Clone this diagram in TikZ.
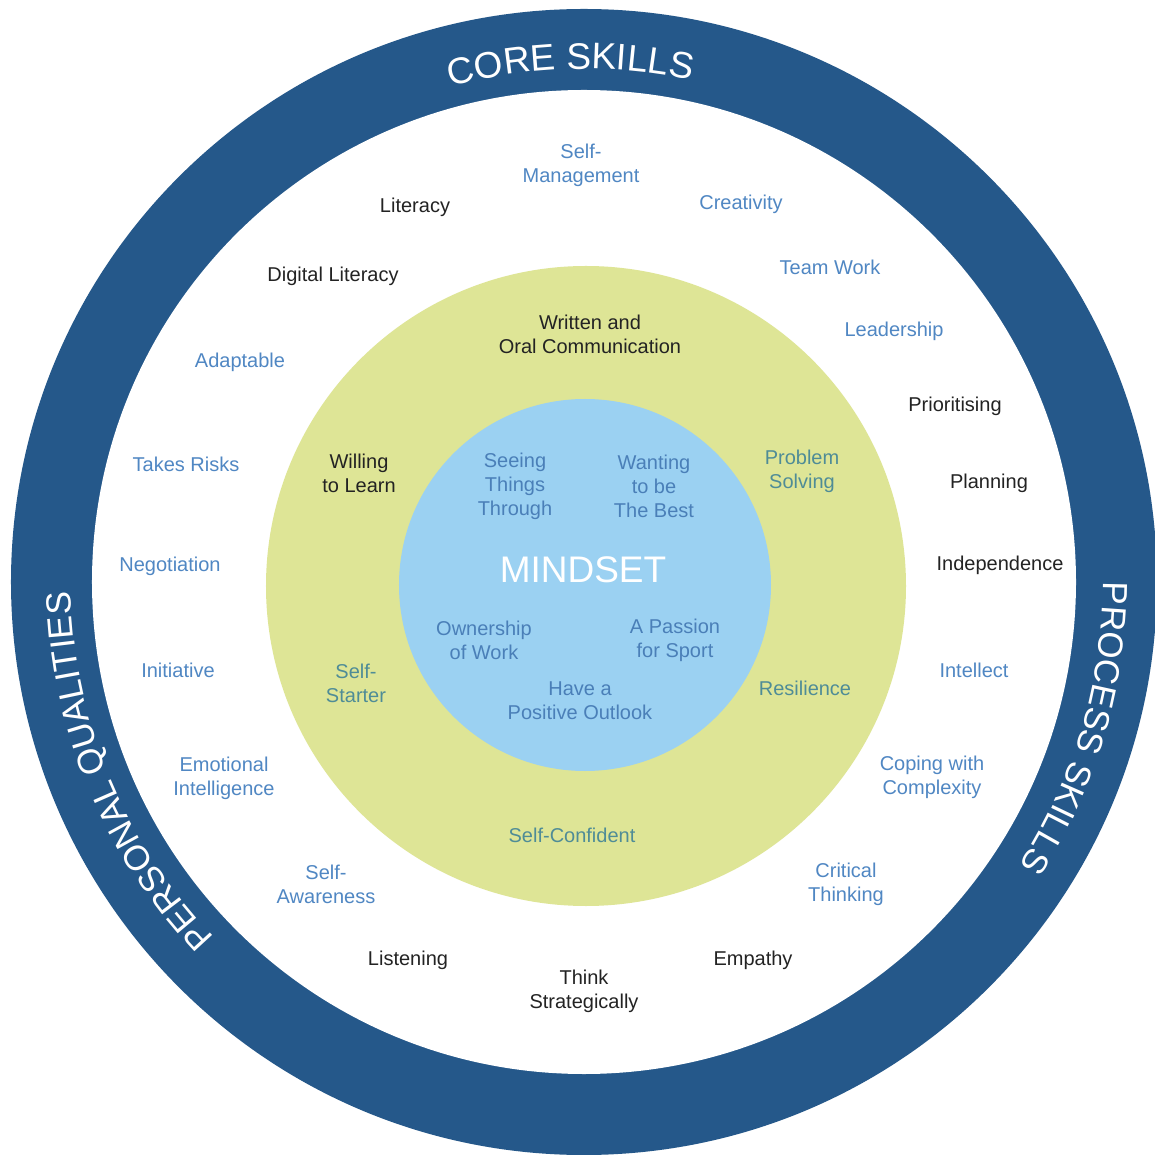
\documentclass[tikz,border=0pt]{standalone}
\usepackage{fontspec}
\setmainfont{Liberation Sans}
\usetikzlibrary{decorations.text}
\definecolor{ringblue}{RGB}{37,88,138}
\definecolor{ringyellow}{RGB}{222,229,150}
\definecolor{coreblue}{RGB}{155,209,242}
\definecolor{txtblue}{RGB}{80,135,195}
\definecolor{txtdark}{RGB}{35,35,35}
\definecolor{txtteal}{RGB}{79,140,150}
\definecolor{txtinner}{RGB}{74,127,184}
\tikzset{
  lbl/.style={align=center, inner sep=0pt, font=\fontsize{20}{24}\selectfont},
  bluelbl/.style={lbl, text=txtblue},
  darklbl/.style={lbl, text=txtdark},
  teallbl/.style={lbl, text=txtteal},
  innerlbl/.style={lbl, text=txtinner},
  disc/.style={circle, inner sep=0pt, draw=none},
  arctext/.style 2 args={decorate, decoration={text along path, text align=center,
     text={|\fontsize{#1}{#1}\selectfont\color{white}|#2}}}
}
\begin{document}
\begin{tikzpicture}[x=1pt,y=1pt]
\useasboundingbox[fill=white] (-584,-573) rectangle (571,582);
% rings
\node[disc, fill=ringblue, minimum size=1146pt] (outer) at (0,0) {};
\node[disc, fill=white, minimum size=984pt] (white) at (0,0) {};
\node[disc, fill=ringyellow, minimum size=640pt] (yellow) at (2,-4) {};
\node[disc, fill=coreblue, minimum size=372pt] (core) at (1,-3) {};
% curved titles
\path[arctext={37}{CORE SKILLS}] (131.5:513) arc[start angle=131.5, end angle=51.5, radius=513];
\path[arctext={35}{PROCESS SKILLS}] (23.5:519) arc[start angle=23.5, end angle=-56.5, radius=519];
\path[arctext={35}{PERSONAL QUALITIES}] (242.5:513) arc[start angle=242.5, end angle=162.5, radius=513];
% outer ring labels
\node[bluelbl] (selfman) at (-3,417) {Self-\\Management};
\node[darklbl] (literacy) at (-169,375) {Literacy};
\node[bluelbl] (creativity) at (157,378) {Creativity};
\node[darklbl] (digital) at (-251,306) {Digital Literacy};
\node[bluelbl] (team) at (246,315) {Team Work};
\node[bluelbl] (leader) at (310,251) {Leadership};
\node[bluelbl] (adapt) at (-344,220) {Adaptable};
\node[darklbl] (prior) at (371,176) {Prioritising};
\node[bluelbl] (risks) at (-398,118) {Takes Risks};
\node[darklbl] (plan) at (405,99) {Planning};
\node[bluelbl] (nego) at (-414,16) {Negotiation};
\node[darklbl] (indep) at (416,17) {Independence};
\node[bluelbl] (init) at (-406,-88) {Initiative};
\node[bluelbl] (intel) at (390,-88) {Intellect};
\node[bluelbl] (emo) at (-360,-196) {Emotional\\Intelligence};
\node[bluelbl] (coping) at (348,-195) {Coping with\\Complexity};
\node[bluelbl] (selfaw) at (-258,-302) {Self-\\Awareness};
\node[bluelbl] (critical) at (262,-302) {Critical\\Thinking};
\node[darklbl] (listen) at (-176,-378) {Listening};
\node[darklbl] (empathy) at (169,-378) {Empathy};
\node[darklbl] (think) at (0,-409) {Think\\Strategically};
% yellow ring labels
\node[darklbl] (written) at (6,248) {Written and\\Oral Communication};
\node[darklbl] (willing) at (-225,109) {Willing\\to Learn};
\node[teallbl] (problem) at (218,111) {Problem\\Solving};
\node[teallbl] (starter) at (-228,-101) {Self-\\Starter};
\node[teallbl] (resil) at (221,-106) {Resilience};
\node[teallbl] (confident) at (-12,-253) {Self-Confident};
% core labels
\node[innerlbl] (seeing) at (-69,96) {Seeing\\Things\\Through};
\node[innerlbl] (wanting) at (70,96) {Wanting\\to be\\The Best};
\node[lbl, text=white, font=\fontsize{37}{40}\selectfont] (mindset) at (-1,12) {MINDSET};
\node[innerlbl] (owner) at (-100,-58) {Ownership\\of Work};
\node[innerlbl] (passion) at (91,-58) {A Passion\\for Sport};
\node[innerlbl] (positive) at (-4,-119) {Have a\\Positive Outlook};
\end{tikzpicture}
\end{document}
